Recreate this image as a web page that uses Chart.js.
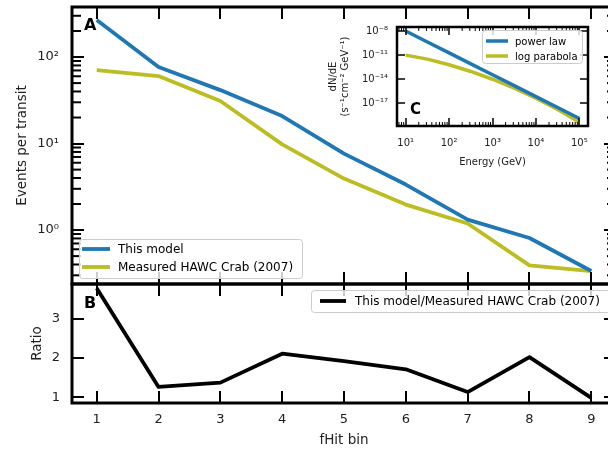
<!DOCTYPE html>
<html>
<head>
<meta charset="utf-8">
<title>Events per transit</title>
<script src="https://cdn.jsdelivr.net/npm/chart.js@4.4.1/dist/chart.umd.min.js"></script>
<style>
  html, body { margin: 0; padding: 0; width: 608px; height: 453px; overflow: hidden; background: #fff; }
  canvas { position: absolute; display: block; }
</style>
</head>
<body>
<canvas id="events" width="640" height="290" style="left:0px;top:0px"></canvas>
<canvas id="ratio" width="640" height="175" style="left:0px;top:278px"></canvas>
<canvas id="spectrum" width="290" height="160" style="left:320px;top:15px"></canvas>
<script>
// fHit bins and events per transit
const fHitBins = [1, 2, 3, 4, 5, 6, 7, 8, 9];
const modelEvents = [268, 76.6, 41.5, 20.8, 7.66, 3.36, 1.32, 0.81, 0.336];
const hawcEvents = [70.7, 60.3, 31.0, 9.8, 3.94, 1.97, 1.19, 0.39, 0.336];
const ratioValues = [3.78, 1.26, 1.37, 2.11, 1.92, 1.71, 1.13, 2.02, 0.98];

// Crab spectrum, dN/dE in s^-1 cm^-2 GeV^-1
const energyGeV = [10, 31.6, 100, 316, 1000, 3160, 10000, 31600, 100000];
const powerLawFlux = [1.0e-8, 4.4e-10, 1.9e-11, 8.3e-13, 3.6e-14, 1.6e-15, 6.9e-17, 3.0e-18, 1.3e-19];
const logParabolaFlux = [1.0e-11, 3.2e-12, 6.3e-13, 9.3e-14, 1.0e-14, 7.9e-16, 4.3e-17, 1.7e-18, 4.5e-20];

const BLUE = '#1f77b4';
const OLIVE = '#bcbd22';
const FONT = 'DejaVu Sans';

const SUP = {'-': '⁻', '0': '⁰', '1': '¹', '2': '²', '3': '³', '4': '⁴', '5': '⁵', '6': '⁶', '7': '⁷', '8': '⁸', '9': '⁹'};
function pow10(v) {
  const e = Math.round(Math.log10(v));
  return '10' + String(e).split('').map(c => SUP[c]).join('');
}

// 2..9 x 10^n between lo and hi
function logMinors(lo, hi) {
  const out = [];
  for (let e = Math.floor(Math.log10(lo)); e <= Math.ceil(Math.log10(hi)); e++) {
    for (let m = 2; m <= 9; m++) {
      const v = m * Math.pow(10, e);
      if (v >= lo && v <= hi) out.push(v);
    }
  }
  return out;
}

function points(xs, ys) {
  return xs.map((x, i) => ({x: x, y: ys[i]}));
}

// fixed axis sizes, no extra room for overhanging tick labels
function fixWidth(w) {
  return s => { s.width = w; s.paddingTop = 0; s.paddingBottom = 0; };
}
function fixHeight(h) {
  return s => { s.height = h; s.paddingLeft = 0; s.paddingRight = 0; };
}

function seg(ctx, x1, y1, x2, y2, w) {
  ctx.lineWidth = w;
  ctx.beginPath();
  ctx.moveTo(x1, y1);
  ctx.lineTo(x2, y2);
  ctx.stroke();
}

// box, inward ticks on all four sides, panel letter and legend
const framePlugin = {
  id: 'frame',
  beforeDatasetsDraw(chart, args, opts) {
    if (!opts.fill) return;
    const a = chart.chartArea;
    chart.ctx.save();
    chart.ctx.fillStyle = '#fff';
    chart.ctx.fillRect(a.left, a.top, a.width, a.height);
    chart.ctx.restore();
  },
  afterDatasetsDraw(chart, args, opts) {
    const {ctx, chartArea: a, scales} = chart;
    const sx = scales.x, sy = scales.y;
    ctx.save();
    ctx.strokeStyle = '#000';

    // minor ticks on log axes
    const len = opts.minorLen || 8;
    const w = opts.minorWidth || 2;
    if (sy.type === 'logarithmic' && !opts.skipMinorY) {
      logMinors(sy.min, sy.max).forEach(v => {
        const py = sy.getPixelForValue(v);
        seg(ctx, a.left, py, a.left + len, py, w);
        seg(ctx, a.right, py, a.right - len, py, w);
      });
    }
    if (sx.type === 'logarithmic') {
      logMinors(sx.min, sx.max).forEach(v => {
        const px = sx.getPixelForValue(v);
        seg(ctx, px, a.top, px, a.top + len, w);
        seg(ctx, px, a.bottom, px, a.bottom - len, w);
      });
    }

    // major ticks
    sx.ticks.forEach(t => {
      const px = Math.round(sx.getPixelForValue(t.value));
      seg(ctx, px, a.top, px, a.top + opts.majorLen, opts.majorWidth);
      seg(ctx, px, a.bottom, px, a.bottom - opts.majorLen, opts.majorWidth);
    });
    sy.ticks.forEach(t => {
      const py = Math.round(sy.getPixelForValue(t.value));
      seg(ctx, a.left, py, a.left + opts.majorLen, py, opts.majorWidth);
      seg(ctx, a.right, py, a.right - opts.majorLen, py, opts.majorWidth);
    });

    ctx.lineWidth = opts.frameWidth;
    ctx.strokeRect(a.left, a.top, a.width, a.height);

    const lt = opts.letter;
    ctx.fillStyle = '#000';
    ctx.font = 'bold ' + lt.size + 'px ' + FONT;
    ctx.textBaseline = 'alphabetic';
    ctx.textAlign = 'left';
    ctx.fillText(lt.text, lt.x, lt.y);

    const lg = opts.legend;
    ctx.beginPath();
    ctx.roundRect(lg.box[0] + 0.5, lg.box[1] + 0.5, lg.box[2], lg.box[3], 3);
    ctx.fillStyle = 'rgba(255,255,255,0.8)';
    ctx.fill();
    ctx.strokeStyle = '#cccccc';
    ctx.lineWidth = 1;
    ctx.stroke();
    ctx.font = lg.size + 'px ' + FONT;
    ctx.textBaseline = 'middle';
    chart.data.datasets.forEach((ds, i) => {
      const y = lg.rows[i];
      ctx.strokeStyle = ds.borderColor;
      seg(ctx, lg.lineX[0], y, lg.lineX[1], y, lg.lineWidth);
      ctx.fillStyle = '#000';
      ctx.fillText(ds.label, lg.textX, y + 1);
    });
    ctx.restore();
  }
};

const tickFont = {family: FONT, size: 13};
const titleFont = {family: FONT, size: 13.5};
const smallFont = {family: FONT, size: 10};

// Panel A: events per transit
new Chart(document.getElementById('events'), {
  type: 'line',
  data: {
    datasets: [
      {label: 'This model', data: points(fHitBins, modelEvents), borderColor: BLUE},
      {label: 'Measured HAWC Crab (2007)', data: points(fHitBins, hawcEvents), borderColor: OLIVE}
    ]
  },
  options: {
    responsive: false,
    animation: false,
    devicePixelRatio: 1,
    layout: {padding: {left: 0, top: 7, right: 24, bottom: 6}},
    elements: {
      line: {borderWidth: 3.8, tension: 0, borderJoinStyle: 'round'},
      point: {radius: 0, hoverRadius: 0}
    },
    scales: {
      x: {
        type: 'linear', min: 0.6, max: 9.4, display: false,
        afterBuildTicks: s => { s.ticks = fHitBins.map(v => ({value: v})); }
      },
      y: {
        type: 'logarithmic', min: 0.238, max: 379,
        afterBuildTicks: s => { s.ticks = [1, 10, 100].map(v => ({value: v})); },
        afterFit: fixWidth(72),
        grid: {display: false, drawTicks: false},
        border: {display: false},
        ticks: {callback: v => pow10(v), padding: 13, font: tickFont, color: '#222'},
        title: {display: true, text: 'Events per transit', padding: {top: 14}, font: titleFont, color: '#222'}
      }
    },
    plugins: {
      legend: {display: false},
      tooltip: {enabled: false},
      frame: {
        majorLen: 12, minorLen: 9, majorWidth: 2, minorWidth: 2, frameWidth: 3,
        letter: {text: 'A', x: 84, y: 30, size: 16},
        legend: {box: [79, 239, 223, 39], lineX: [82, 110], textX: 118, size: 12, lineWidth: 3.8, rows: [249, 267]}
      }
    }
  },
  plugins: [framePlugin]
});

// Panel B: ratio of model to measurement
new Chart(document.getElementById('ratio'), {
  type: 'line',
  data: {
    datasets: [
      {label: 'This model/Measured HAWC Crab (2007)', data: points(fHitBins, ratioValues), borderColor: '#000'}
    ]
  },
  options: {
    responsive: false,
    animation: false,
    devicePixelRatio: 1,
    layout: {padding: {left: 0, top: 6, right: 24, bottom: 0}},
    elements: {
      line: {borderWidth: 3.8, tension: 0, borderJoinStyle: 'round'},
      point: {radius: 0, hoverRadius: 0}
    },
    scales: {
      x: {
        type: 'linear', min: 0.6, max: 9.4,
        afterBuildTicks: s => { s.ticks = fHitBins.map(v => ({value: v})); },
        afterFit: fixHeight(50),
        grid: {display: false, drawTicks: false},
        border: {display: false},
        ticks: {padding: 9, font: tickFont, color: '#222', maxRotation: 0},
        title: {display: true, text: 'fHit bin', padding: {bottom: 4}, font: titleFont, color: '#222'}
      },
      y: {
        type: 'linear', min: 0.85, max: 3.89,
        afterBuildTicks: s => { s.ticks = [1, 2, 3].map(v => ({value: v})); },
        afterFit: fixWidth(72),
        grid: {display: false, drawTicks: false},
        border: {display: false},
        ticks: {padding: 12, font: tickFont, color: '#222'},
        title: {display: true, text: 'Ratio', padding: {top: 29}, font: titleFont, color: '#222'}
      }
    },
    plugins: {
      legend: {display: false},
      tooltip: {enabled: false},
      frame: {
        majorLen: 12, minorLen: 8, majorWidth: 2, minorWidth: 1.5, frameWidth: 3,
        letter: {text: 'B', x: 84, y: 30, size: 16},
        legend: {box: [311, 12, 300, 22], lineX: [320, 346], textX: 355, size: 12, lineWidth: 3.8, rows: [23]}
      }
    }
  },
  plugins: [framePlugin]
});

// Panel C: spectral models
new Chart(document.getElementById('spectrum'), {
  type: 'line',
  data: {
    datasets: [
      {label: 'power law', data: points(energyGeV, powerLawFlux), borderColor: BLUE},
      {label: 'log parabola', data: points(energyGeV, logParabolaFlux), borderColor: OLIVE}
    ]
  },
  options: {
    responsive: false,
    animation: false,
    devicePixelRatio: 1,
    layout: {padding: {left: 0, top: 12, right: 22, bottom: 0}},
    elements: {
      line: {borderWidth: 3.5, tension: 0, borderJoinStyle: 'round'},
      point: {radius: 0, hoverRadius: 0}
    },
    scales: {
      x: {
        type: 'logarithmic', min: 6.31, max: 1.58e5,
        afterBuildTicks: s => { s.ticks = [10, 100, 1000, 1e4, 1e5].map(v => ({value: v})); },
        afterFit: fixHeight(49),
        grid: {display: false, drawTicks: false},
        border: {display: false},
        ticks: {callback: v => pow10(v), padding: 11, font: smallFont, color: '#222', maxRotation: 0},
        title: {display: true, text: 'Energy (GeV)', padding: {bottom: 7}, font: smallFont, color: '#222'}
      },
      y: {
        type: 'logarithmic', min: 1.5e-20, max: 3.2e-8,
        afterBuildTicks: s => { s.ticks = [1e-17, 1e-14, 1e-11, 1e-8].map(v => ({value: v})); },
        afterFit: fixWidth(77),
        grid: {display: false, drawTicks: false},
        border: {display: false},
        ticks: {callback: v => pow10(v), padding: 9, font: smallFont, color: '#222'},
        title: {display: true, text: ['dN/dE', '(s⁻¹cm⁻² GeV⁻¹)'], padding: {top: 7}, font: smallFont, color: '#222'}
      }
    },
    plugins: {
      legend: {display: false},
      tooltip: {enabled: false},
      frame: {
        fill: true,
        skipMinorY: true,
        majorLen: 8, minorLen: 4, majorWidth: 1.5, minorWidth: 1, frameWidth: 2.5,
        letter: {text: 'C', x: 90, y: 99, size: 15},
        legend: {box: [162, 15, 100, 33], lineX: [166, 188], textX: 195, size: 10, lineWidth: 3.5, rows: [26, 41]}
      }
    }
  },
  plugins: [framePlugin]
});
</script>
</body>
</html>
